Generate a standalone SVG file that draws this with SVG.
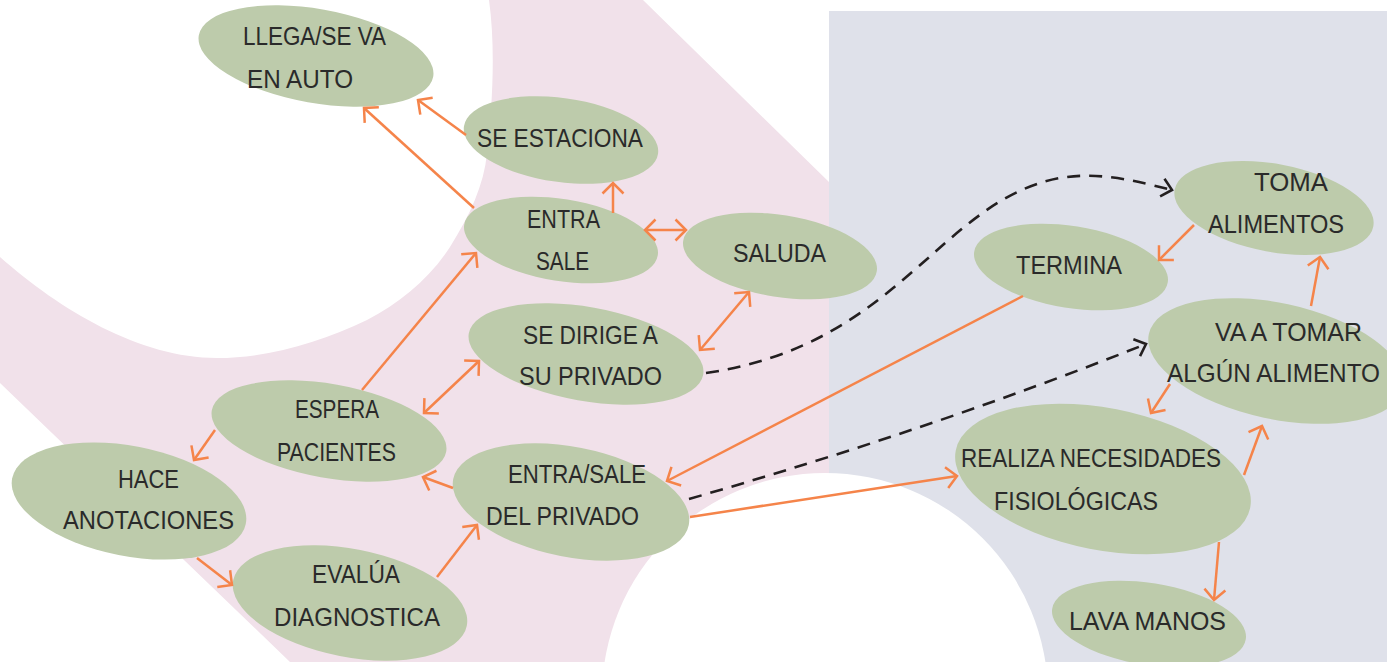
<svg xmlns="http://www.w3.org/2000/svg" width="1387" height="662" viewBox="0 0 1387 662">
<style>
.node ellipse{fill:#bdcbab}
.node text{font-family:"Liberation Sans",Arial,sans-serif;font-size:25px;fill:#2a2a2a}
.o{fill:none;stroke:#f5844a;stroke-width:2.5}
.d{fill:none;stroke:#231f20;stroke-width:2.6;stroke-dasharray:13 9}
</style>
<defs>
<marker id="ao" viewBox="-14 -14 16 28" refX="0" refY="0" markerWidth="16" markerHeight="28" markerUnits="userSpaceOnUse" orient="auto-start-reverse" overflow="visible">
<path d="M-10.5,-10.5 L0,0 L-10.5,10.5" fill="none" stroke="#f5844a" stroke-width="2.5"/>
</marker>
<marker id="ak" viewBox="-14 -14 16 28" refX="0" refY="0" markerWidth="16" markerHeight="28" markerUnits="userSpaceOnUse" orient="auto" overflow="visible">
<path d="M-10,-9 L0,0 L-10,9" fill="none" stroke="#231f20" stroke-width="2.6"/>
</marker>
</defs>
<g id="background">
<rect x="0" y="0" width="1387" height="662" fill="#ffffff"/>
<path d="M489,0 L643,0 L829,182 L829,662 L290,662 L0,383 L0,257 C60,310 140,358 217,358 C270,358 320,342 367,320 C400,303 430,278 450,247 C470,215 484,185 487,153 C492,110 496,50 489,0 Z" fill="#f1e1ea"/>
<rect x="829" y="11" width="558" height="651" fill="#dfe1ea"/>
<circle cx="825" cy="696" r="223" fill="#ffffff"/>
</g>
<g id="n-llega" class="node"><ellipse cx="316" cy="56" rx="119" ry="47" transform="rotate(10 316 56)"/><text x="243" y="45" textLength="143" lengthAdjust="spacingAndGlyphs">LLEGA/SE VA</text><text x="247" y="88" textLength="106" lengthAdjust="spacingAndGlyphs">EN AUTO</text></g>
<g id="n-estaciona" class="node"><ellipse cx="561" cy="140" rx="98" ry="42" transform="rotate(8 561 140)"/><text x="477" y="147" textLength="166" lengthAdjust="spacingAndGlyphs">SE ESTACIONA</text></g>
<g id="n-entra" class="node"><ellipse cx="561" cy="240" rx="98" ry="41" transform="rotate(9 561 240)"/><text x="527" y="228" textLength="73" lengthAdjust="spacingAndGlyphs">ENTRA</text><text x="536" y="270" textLength="53" lengthAdjust="spacingAndGlyphs">SALE</text></g>
<g id="n-saluda" class="node"><ellipse cx="780" cy="256" rx="98" ry="41" transform="rotate(9 780 256)"/><text x="733" y="262" textLength="93" lengthAdjust="spacingAndGlyphs">SALUDA</text></g>
<g id="n-dirige" class="node"><ellipse cx="586" cy="354" rx="119" ry="47" transform="rotate(10 586 354)"/><text x="523" y="344" textLength="135" lengthAdjust="spacingAndGlyphs">SE DIRIGE A</text><text x="519" y="385" textLength="143" lengthAdjust="spacingAndGlyphs">SU PRIVADO</text></g>
<g id="n-espera" class="node"><ellipse cx="329" cy="431" rx="119" ry="47" transform="rotate(10 329 431)"/><text x="295" y="418" textLength="84" lengthAdjust="spacingAndGlyphs">ESPERA</text><text x="277" y="461" textLength="119" lengthAdjust="spacingAndGlyphs">PACIENTES</text></g>
<g id="n-hace" class="node"><ellipse cx="129" cy="501" rx="119" ry="55" transform="rotate(11 129 501)"/><text x="118" y="488" textLength="61" lengthAdjust="spacingAndGlyphs">HACE</text><text x="63" y="529" textLength="171" lengthAdjust="spacingAndGlyphs">ANOTACIONES</text></g>
<g id="n-evalua" class="node"><ellipse cx="350" cy="603" rx="119" ry="54" transform="rotate(11 350 603)"/><text x="312" y="583" textLength="88" lengthAdjust="spacingAndGlyphs">EVALÚA</text><text x="274" y="626" textLength="166" lengthAdjust="spacingAndGlyphs">DIAGNOSTICA</text></g>
<g id="n-entrasale" class="node"><ellipse cx="571" cy="502" rx="120" ry="55" transform="rotate(11 571 502)"/><text x="508" y="483" textLength="138" lengthAdjust="spacingAndGlyphs">ENTRA/SALE</text><text x="486" y="525" textLength="153" lengthAdjust="spacingAndGlyphs">DEL PRIVADO</text></g>
<g id="n-toma" class="node"><ellipse cx="1274" cy="208" rx="101" ry="44" transform="rotate(10.5 1274 208)"/><text x="1254" y="191" textLength="74" lengthAdjust="spacingAndGlyphs">TOMA</text><text x="1208" y="233" textLength="136" lengthAdjust="spacingAndGlyphs">ALIMENTOS</text></g>
<g id="n-termina" class="node"><ellipse cx="1071" cy="267" rx="98" ry="41" transform="rotate(9 1071 267)"/><text x="1016" y="274" textLength="106" lengthAdjust="spacingAndGlyphs">TERMINA</text></g>
<g id="n-vaatomar" class="node"><ellipse cx="1276" cy="361" rx="130" ry="58" transform="rotate(12 1276 361)"/><text x="1215" y="341" textLength="147" lengthAdjust="spacingAndGlyphs">VA A TOMAR</text><text x="1167" y="382" textLength="213" lengthAdjust="spacingAndGlyphs">ALGÚN ALIMENTO</text></g>
<g id="n-realiza" class="node"><ellipse cx="1103" cy="479" rx="150" ry="71" transform="rotate(11 1103 479)"/><text x="961" y="467" textLength="260" lengthAdjust="spacingAndGlyphs">REALIZA NECESIDADES</text><text x="994" y="510" textLength="164" lengthAdjust="spacingAndGlyphs">FISIOLÓGICAS</text></g>
<g id="n-lava" class="node"><ellipse cx="1149" cy="624" rx="98" ry="41" transform="rotate(9 1149 624)"/><text x="1069" y="630" textLength="157" lengthAdjust="spacingAndGlyphs">LAVA MANOS</text></g>
<g id="connectors">
<path class="o" d="M474,208 L364,108" marker-end="url(#ao)"/>
<path class="o" d="M466,135 L418,100" marker-end="url(#ao)"/>
<path class="o" d="M613,213 L613,183" marker-end="url(#ao)"/>
<path class="o" d="M645,230 L686,230" marker-start="url(#ao)" marker-end="url(#ao)"/>
<path class="o" d="M700,350 L749,292" marker-start="url(#ao)" marker-end="url(#ao)"/>
<path class="o" d="M424,413 L479,361" marker-start="url(#ao)" marker-end="url(#ao)"/>
<path class="o" d="M362,390 L476,253" marker-end="url(#ao)"/>
<path class="o" d="M215,430 L194,460" marker-end="url(#ao)"/>
<path class="o" d="M197,558 L232,585" marker-end="url(#ao)"/>
<path class="o" d="M437,577 L477,525" marker-end="url(#ao)"/>
<path class="o" d="M453,488 L423,477" marker-end="url(#ao)"/>
<path class="o" d="M1023,296 L667,481" marker-end="url(#ao)"/>
<path class="o" d="M690,517 L957,476" marker-end="url(#ao)"/>
<path class="o" d="M1194,225 L1159,260" marker-end="url(#ao)"/>
<path class="o" d="M1311,306 L1320,257" marker-end="url(#ao)"/>
<path class="o" d="M1170,384 L1151,413" marker-end="url(#ao)"/>
<path class="o" d="M1244,475 L1262,426" marker-end="url(#ao)"/>
<path class="o" d="M1219,542 L1214,600" marker-end="url(#ao)"/>
<path class="d" d="M706,373 C900,345 940,200 1060,178 C1100,171 1140,182 1172,190" marker-end="url(#ak)"/>
<path class="d" d="M689,499 Q930,430 1146,344" marker-end="url(#ak)"/>
</g>
</svg>
